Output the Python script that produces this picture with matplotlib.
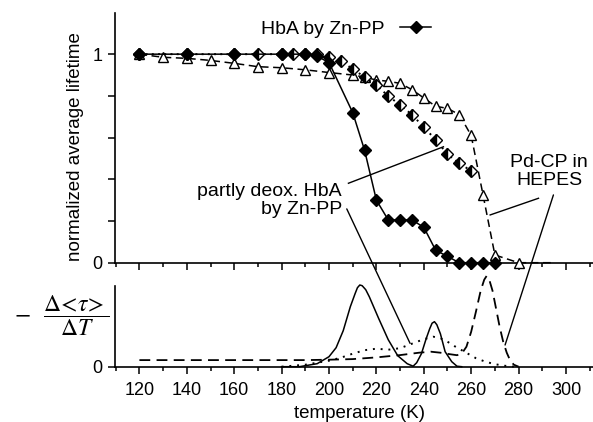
import numpy as np
import matplotlib.pyplot as plt
from matplotlib.lines import Line2D
from matplotlib.ticker import MultipleLocator

plt.rcParams['font.family'] = ['Liberation Sans', 'DejaVu Sans']
plt.rcParams['mathtext.fontset'] = 'stix'

# top panel: normalized average lifetime vs temperature (K)
zn_T = [120, 140, 160, 180, 190, 195, 200, 210, 215, 220, 225, 230, 235,
        240, 245, 250, 255, 260, 265, 270]
zn_v = [1.0, 1.0, 1.0, 1.0, 1.0, 0.99, 0.96, 0.72, 0.54, 0.30, 0.205, 0.205,
        0.205, 0.17, 0.06, 0.03, 0.0, 0.0, 0.0, 0.0]

deox_T = [120, 140, 160, 170, 180, 185, 190, 195, 200, 205, 210, 215, 220,
          225, 230, 235, 240, 245, 250, 255, 260]
deox_v = [1.0, 1.0, 1.0, 1.0, 1.0, 1.0, 1.0, 1.0, 0.985, 0.965, 0.93, 0.89,
          0.85, 0.80, 0.756, 0.71, 0.65, 0.59, 0.52, 0.477, 0.44]

pd_T = [120, 130, 140, 150, 160, 170, 180, 190, 200, 210, 215, 220, 225, 230,
        235, 240, 245, 250, 255, 260, 265, 270, 280, 290, 295]
pd_v = [1.0, 0.985, 0.98, 0.97, 0.956, 0.94, 0.935, 0.925, 0.912, 0.90, 0.89,
        0.876, 0.87, 0.86, 0.83, 0.79, 0.75, 0.74, 0.71, 0.61, 0.325, 0.037,
        0.0, 0.0, 0.0]

# bottom panel: -d<tau>/dT, arbitrary units
dzn_T = [180, 187.5, 195, 200, 203, 206, 209, 211, 212, 213, 214, 215.5, 217,
         219, 221, 225, 229, 233, 235.5, 237, 239, 241, 242.5, 243.5, 244.5,
         245.5, 247, 249, 251.8, 254, 256]
dzn_v = [0, 0, 3, 10, 19, 36, 60, 73, 79, 81.7, 81, 77, 70,
         59, 48, 27, 11, 3, 0.5, 4, 13, 28, 38, 43.5, 45,
         42, 33, 15, 5, 0.5, 0]

ddeox_T = [180, 190, 200, 205, 210, 215, 220, 225, 230, 235, 240, 244, 247,
           250, 253, 256, 259, 262, 266, 270, 274, 278]
ddeox_v = [0, 2, 6, 9, 13, 16.5, 18, 17, 18.5, 23, 27.5, 30, 28.5,
           25, 20.5, 16.5, 12.5, 8.5, 5, 2.5, 1, 0]

dpd_T = [120, 190, 200, 210, 220, 230, 238, 243, 247, 251, 254, 256, 258, 260,
         262, 264, 265.5, 266.5, 267.5, 269, 270.5, 272, 273.5, 275, 276.5,
         278, 280]
dpd_v = [6.6, 6.6, 7, 7.6, 9.3, 11.6, 14, 15, 14, 12.5, 11.5, 13, 20, 35,
         55, 76, 87, 90.7, 88, 76, 58, 40, 25, 14, 6, 2, 0]

W, H = 593, 422
fig = plt.figure(figsize=(W / 100, H / 100), dpi=100)
ax1 = fig.add_axes([115 / W, 159.3 / H, 478 / W, 249.4 / H])
ax2 = fig.add_axes([115 / W, 55.3 / H, 478 / W, 80.7 / H])

for ax in (ax1, ax2):
    ax.set_xlim(109.7, 311.4)
    ax.patch.set_visible(False)
    for s in ('top', 'right'):
        ax.spines[s].set_visible(False)
    for s in ('left', 'bottom'):
        ax.spines[s].set_linewidth(1.2)
    ax.xaxis.set_major_locator(MultipleLocator(20))
    ax.xaxis.set_minor_locator(MultipleLocator(10))
    ax.tick_params(which='major', length=5, width=1.1, labelsize=13, pad=4)
    ax.tick_params(which='minor', length=3, width=1.1)
    ax.tick_params(axis='x', which='both', direction='out')

ax1.set_ylim(0, 1.196)
ax1.set_yticks([0, 0.2, 0.4, 0.6, 0.8, 1.0])
ax1.set_yticklabels(['0', '', '', '', '', '1'])
ax1.tick_params(axis='x', labelbottom=False)

ax2.set_ylim(0, 80.7)
ax2.set_yticks([0])
ax2.set_yticklabels(['0'])
ax2.tick_params(axis='x', pad=6)

# top curves
ax1.plot(pd_T, pd_v, color='k', lw=1.1, dashes=(5, 3), marker='^', ms=7,
         mfc='white', mec='k', mew=1.0, markevery=list(range(len(pd_T) - 2)),
         clip_on=False, zorder=3)
ax1.plot(deox_T, deox_v, color='k', lw=1.4, dashes=(1, 2.2), marker='D', ms=6,
         fillstyle='left', mfc='k', mfcalt='white', mec='k', mew=1.0,
         clip_on=False, zorder=4)
ax1.plot(zn_T, zn_v, color='k', lw=1.1, marker='D', ms=6, mfc='k', mec='k',
         clip_on=False, zorder=5)

# bottom curves
ax2.plot(dzn_T, dzn_v, color='k', lw=1.1, clip_on=False)
ax2.plot(ddeox_T, ddeox_v, color='k', lw=1.4, dashes=(1, 3), clip_on=False)
ax2.plot(dpd_T, dpd_v, color='k', lw=1.3, dashes=(6, 3.5), clip_on=False)

# legend
h = Line2D([], [], color='k', lw=1.1, marker='D', ms=6)
ax1.legend([h], ['HbA by Zn-PP'], loc='center left',
           bbox_to_anchor=(261 / W, 1 - 29 / H), bbox_transform=fig.transFigure,
           frameon=False, markerfirst=False, handlelength=1.6, borderpad=0,
           borderaxespad=0, handletextpad=0.8, fontsize=14)

# annotations
ax1.text(205.5, 0.297, 'partly deox. HbA\nby Zn-PP', ha='right', va='center',
         fontsize=14, multialignment='right', linespacing=1.1)
ax1.text(292.9, 0.437, 'Pd-CP in\nHEPES', ha='center', va='center',
         fontsize=14, multialignment='center', linespacing=1.1)
ax1.plot([208.2, 248.3], [0.381, 0.556], color='k', lw=1, clip_on=False)
ax1.plot([288.4, 268.0], [0.309, 0.229], color='k', lw=1, clip_on=False)
lp = dict(arrowstyle='-', lw=1, color='k', shrinkA=0, shrinkB=0)
ax1.annotate('', xy=(234.2, 23.4), xycoords=ax2.transData,
             xytext=(207.5, 0.258), textcoords=ax1.transData,
             arrowprops=lp, annotation_clip=False)
ax1.annotate('', xy=(274.3, 21.7), xycoords=ax2.transData,
             xytext=(294.7, 0.325), textcoords=ax1.transData,
             arrowprops=lp, annotation_clip=False)

# axis labels
fig.text(75 / W, 1 - 147 / H, 'normalized average lifetime', rotation=90,
         ha='center', va='center', fontsize=13.5)
fig.text(22 / W, 1 - 314 / H, r'$-$', ha='center', va='center', fontsize=17)
fig.text(76 / W, 1 - 316 / H, r'$\dfrac{\Delta\!<\!\tau\!>}{\Delta T}$',
         ha='center', va='center', fontsize=17)
fig.text(359 / W, 1 - 414 / H, 'temperature (K)', ha='center', va='center',
         fontsize=13.5)

plt.savefig('out.png', dpi=100)
